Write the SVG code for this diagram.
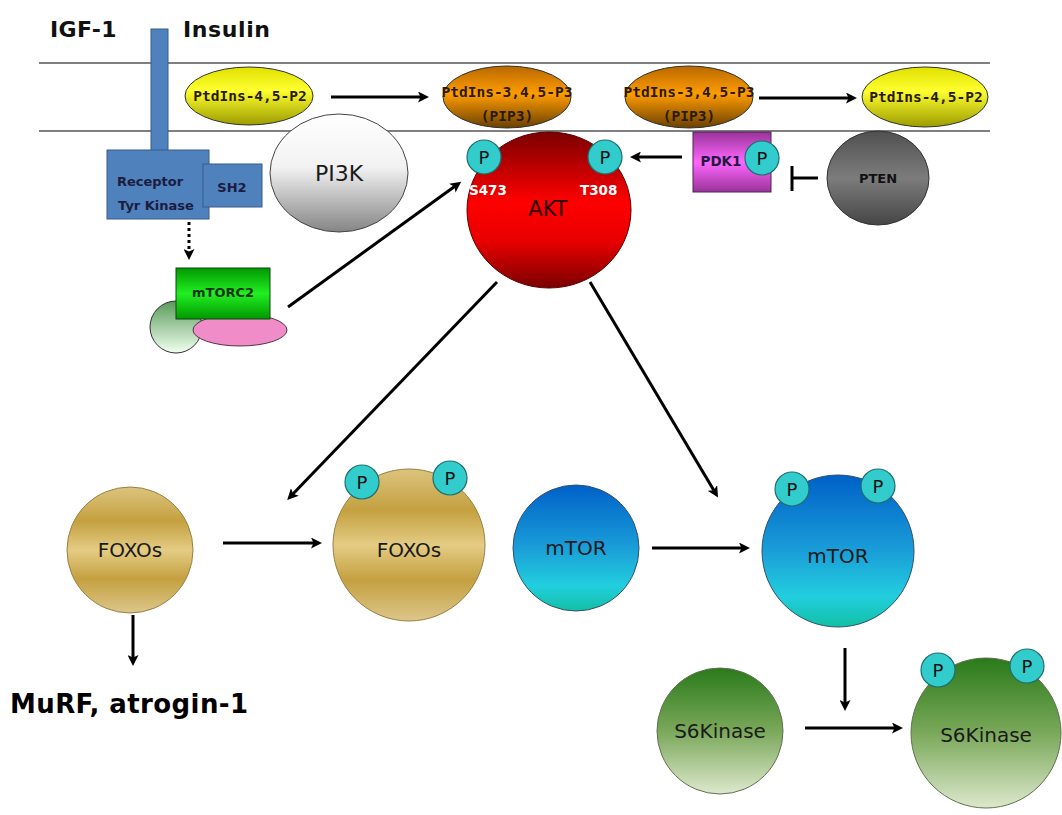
<svg xmlns="http://www.w3.org/2000/svg" width="1062" height="815" viewBox="0 0 1062 815">
<style>
.b{font-family:"DejaVu Sans",Verdana,sans-serif;font-weight:bold;fill:#1c1c40;text-anchor:middle}
.m{font-family:"DejaVu Sans Mono","Liberation Mono",monospace;font-weight:bold;fill:#2a1a00;text-anchor:middle;font-size:14.5px}
.s{font-family:"DejaVu Sans",Verdana,sans-serif;fill:#1a1a1a;text-anchor:middle}
.w{font-family:"DejaVu Sans",Verdana,sans-serif;font-weight:bold;fill:#ffffff;font-size:13.5px}
.pc{fill:#33cccc;stroke:#1f6e6e;stroke-width:1.2}
.pt{font-family:"DejaVu Sans",Verdana,sans-serif;fill:#111;font-size:18px;text-anchor:middle}
.ar{stroke:#000;stroke-width:3;fill:none;marker-end:url(#ah)}
.mem{stroke:#555;stroke-width:1.6}
</style>
<defs>
<marker id="ah" markerWidth="11" markerHeight="11" refX="7" refY="5.5" orient="auto" markerUnits="userSpaceOnUse" viewBox="0 0 11 11">
<path d="M0,0 L11,5.5 L0,11 L2.5,5.5 Z" fill="#000"/>
</marker>
<linearGradient id="gy" x1="0" y1="0" x2="0" y2="1"><stop offset="0" stop-color="#e0e000"/><stop offset="0.4" stop-color="#ffff30"/><stop offset="1" stop-color="#9c9c00"/></linearGradient>
<linearGradient id="go" x1="0" y1="0" x2="0" y2="1"><stop offset="0" stop-color="#b86800"/><stop offset="0.45" stop-color="#ff9c00"/><stop offset="1" stop-color="#6a4000"/></linearGradient>
<linearGradient id="gpi" x1="0" y1="0" x2="0" y2="1"><stop offset="0" stop-color="#ffffff"/><stop offset="0.45" stop-color="#f2f2f2"/><stop offset="1" stop-color="#858585"/></linearGradient>
<linearGradient id="gak" x1="0" y1="0" x2="0" y2="1"><stop offset="0" stop-color="#7a0000"/><stop offset="0.45" stop-color="#ff0000"/><stop offset="0.7" stop-color="#e80000"/><stop offset="1" stop-color="#7a0000"/></linearGradient>
<linearGradient id="gpd" x1="0" y1="0" x2="0" y2="1"><stop offset="0" stop-color="#993399"/><stop offset="0.5" stop-color="#ff66ff"/><stop offset="1" stop-color="#993399"/></linearGradient>
<linearGradient id="gpt" x1="0" y1="0" x2="0" y2="1"><stop offset="0" stop-color="#505050"/><stop offset="0.5" stop-color="#7c7c7c"/><stop offset="1" stop-color="#454545"/></linearGradient>
<linearGradient id="gmc" x1="0" y1="0" x2="0" y2="1"><stop offset="0" stop-color="#009900"/><stop offset="0.5" stop-color="#22ee22"/><stop offset="1" stop-color="#009900"/></linearGradient>
<linearGradient id="glg" x1="0" y1="0" x2="0" y2="1"><stop offset="0" stop-color="#5a9a5a"/><stop offset="1" stop-color="#f0fff0"/></linearGradient>
<linearGradient id="gfo" x1="0" y1="0" x2="0" y2="1"><stop offset="0" stop-color="#dcc47e"/><stop offset="0.27" stop-color="#c4a040"/><stop offset="0.5" stop-color="#e4cc84"/><stop offset="0.73" stop-color="#c4a040"/><stop offset="1" stop-color="#dcc68a"/></linearGradient>
<linearGradient id="gmt" x1="0" y1="0" x2="0" y2="1"><stop offset="0" stop-color="#0060c8"/><stop offset="0.5" stop-color="#1a9ed8"/><stop offset="0.8" stop-color="#22cede"/><stop offset="1" stop-color="#12c0a4"/></linearGradient>
<linearGradient id="gs6" x1="0" y1="0" x2="0" y2="1"><stop offset="0" stop-color="#2a7a1a"/><stop offset="0.5" stop-color="#7aa85a"/><stop offset="1" stop-color="#dde8cc"/></linearGradient>
</defs>

<g id="membrane">
<line class="mem" x1="39" y1="63" x2="990" y2="63"/>
<line class="mem" x1="39" y1="131" x2="990" y2="131"/>
</g>

<g id="labels-top">
<text class="b" x="50" y="37" font-size="22" letter-spacing="0.4" style="text-anchor:start;fill:#111">IGF-1</text>
<text class="b" x="183" y="37" font-size="22" letter-spacing="0.6" style="text-anchor:start;fill:#111">Insulin</text>
</g>

<g id="receptor">
<rect x="151" y="29" width="17" height="122" fill="#4f81bd" stroke="#385d8a" stroke-width="1"/>
<rect x="107" y="150" width="102" height="69" fill="#4f81bd" stroke="#385d8a" stroke-width="1"/>
<text class="b" x="150" y="186" font-size="13">Receptor</text>
<text class="b" x="156" y="210" font-size="13">Tyr Kinase</text>
</g>
<g id="sh2">
<rect x="203" y="164" width="59" height="43" fill="#4f81bd" stroke="#385d8a" stroke-width="1"/>
<text class="b" x="232" y="192" font-size="13">SH2</text>
</g>

<g id="pip2-left">
<ellipse cx="249" cy="96" rx="64" ry="29" fill="url(#gy)" stroke="#333" stroke-width="1"/>
<text class="m" x="250" y="101">PtdIns-4,5-P2</text>
</g>
<g id="pip3-1">
<ellipse cx="507" cy="97" rx="64" ry="31" fill="url(#go)" stroke="#333" stroke-width="1"/>
<text class="m" x="507" y="97">PtdIns-3,4,5-P3</text>
<text class="m" x="507" y="121" font-size="15.5">(PIP3)</text>
</g>
<g id="pip3-2">
<ellipse cx="689" cy="97" rx="64" ry="31" fill="url(#go)" stroke="#333" stroke-width="1"/>
<text class="m" x="689" y="97">PtdIns-3,4,5-P3</text>
<text class="m" x="689" y="121" font-size="15.5">(PIP3)</text>
</g>
<g id="pip2-right">
<ellipse cx="925" cy="97" rx="63" ry="30" fill="url(#gy)" stroke="#333" stroke-width="1"/>
<text class="m" x="926" y="102">PtdIns-4,5-P2</text>
</g>

<g id="pi3k">
<ellipse cx="339" cy="173" rx="69" ry="59" fill="url(#gpi)" stroke="#444" stroke-width="1"/>
<text class="s" x="339" y="181" font-size="22">PI3K</text>
</g>

<g id="akt">
<ellipse cx="549" cy="210" rx="82" ry="78" fill="url(#gak)" stroke="#5a0000" stroke-width="1"/>
<circle class="pc" cx="484" cy="157" r="17"/>
<text class="pt" x="484" y="164">P</text>
<circle class="pc" cx="605" cy="157" r="17"/>
<text class="pt" x="605" y="164">P</text>
<text class="w" x="469" y="195">S473</text>
<text class="w" x="580" y="195">T308</text>
<text class="s" x="548" y="216" font-size="21" style="fill:#2a0000">AKT</text>
</g>

<g id="pdk1">
<rect x="693" y="132" width="78" height="60" fill="url(#gpd)" stroke="#552255" stroke-width="1"/>
<text class="b" x="721" y="166" font-size="13.5">PDK1</text>
<circle class="pc" cx="762" cy="158" r="17"/>
<text class="pt" x="762" y="165">P</text>
</g>

<g id="pten">
<ellipse cx="878" cy="178" rx="51" ry="47" fill="url(#gpt)" stroke="#333" stroke-width="1"/>
<text class="b" x="878" y="183" font-size="13" style="fill:#111">PTEN</text>
</g>

<g id="mtorc2">
<circle cx="176" cy="327" r="26" fill="url(#glg)" stroke="#333" stroke-width="1"/>
<ellipse cx="240" cy="330" rx="47" ry="16" fill="#f08cc8" stroke="#553344" stroke-width="1"/>
<rect x="176" y="268" width="94" height="51" fill="url(#gmc)" stroke="#114411" stroke-width="1"/>
<text class="b" x="223" y="297" font-size="13" style="fill:#113311">mTORC2</text>
</g>

<g id="foxos">
<circle cx="130" cy="550" r="63" fill="url(#gfo)" stroke="#9a8040" stroke-width="1"/>
<text class="s" x="130" y="557" font-size="20">FOXOs</text>
</g>
<g id="foxos-p">
<circle cx="409" cy="545" r="76" fill="url(#gfo)" stroke="#9a8040" stroke-width="1"/>
<circle class="pc" cx="362" cy="482" r="17"/>
<text class="pt" x="362" y="489">P</text>
<circle class="pc" cx="450" cy="478" r="17"/>
<text class="pt" x="450" y="485">P</text>
<text class="s" x="409" y="557" font-size="20">FOXOs</text>
</g>

<g id="murf">
<text class="b" x="10" y="713" font-size="26" letter-spacing="0.4" style="text-anchor:start;fill:#000">MuRF, atrogin-1</text>
</g>

<g id="mtor">
<circle cx="576" cy="548" r="63" fill="url(#gmt)" stroke="#305070" stroke-width="1"/>
<text class="s" x="576" y="555" font-size="20">mTOR</text>
</g>
<g id="mtor-p">
<circle cx="838" cy="551" r="76" fill="url(#gmt)" stroke="#305070" stroke-width="1"/>
<circle class="pc" cx="792" cy="489" r="17"/>
<text class="pt" x="792" y="496">P</text>
<circle class="pc" cx="878" cy="486" r="17"/>
<text class="pt" x="878" y="493">P</text>
<text class="s" x="838" y="563" font-size="20">mTOR</text>
</g>

<g id="s6k">
<circle cx="720" cy="731" r="63" fill="url(#gs6)" stroke="#607050" stroke-width="1"/>
<text class="s" x="720" y="738" font-size="20">S6Kinase</text>
</g>
<g id="s6k-p">
<circle cx="986" cy="733" r="75" fill="url(#gs6)" stroke="#607050" stroke-width="1"/>
<circle class="pc" cx="938" cy="670" r="17"/>
<text class="pt" x="938" y="677">P</text>
<circle class="pc" cx="1027" cy="666" r="17"/>
<text class="pt" x="1027" y="673">P</text>
<text class="s" x="986" y="742" font-size="20">S6Kinase</text>
</g>

<g id="connectors">
<line class="ar" x1="331" y1="97" x2="425" y2="97"/>
<line class="ar" x1="759" y1="98" x2="853" y2="98"/>
<line class="ar" x1="682" y1="157" x2="634" y2="157"/>
<line x1="818" y1="178" x2="792" y2="178" stroke="#000" stroke-width="3"/>
<line x1="792" y1="166" x2="792" y2="191" stroke="#000" stroke-width="3"/>
<line x1="189" y1="222" x2="189" y2="256" stroke="#000" stroke-width="3" stroke-dasharray="3,3" marker-end="url(#ah)"/>
<line class="ar" x1="288" y1="307" x2="458" y2="184"/>
<line class="ar" x1="497" y1="282" x2="290" y2="497"/>
<line class="ar" x1="590" y1="282" x2="716" y2="494"/>
<line class="ar" x1="223" y1="543" x2="318" y2="543"/>
<line class="ar" x1="133" y1="615" x2="133" y2="662"/>
<line class="ar" x1="652" y1="548" x2="746" y2="548"/>
<line class="ar" x1="845" y1="648" x2="845" y2="707"/>
<line class="ar" x1="805" y1="728" x2="899" y2="728"/>
</g>
</svg>
